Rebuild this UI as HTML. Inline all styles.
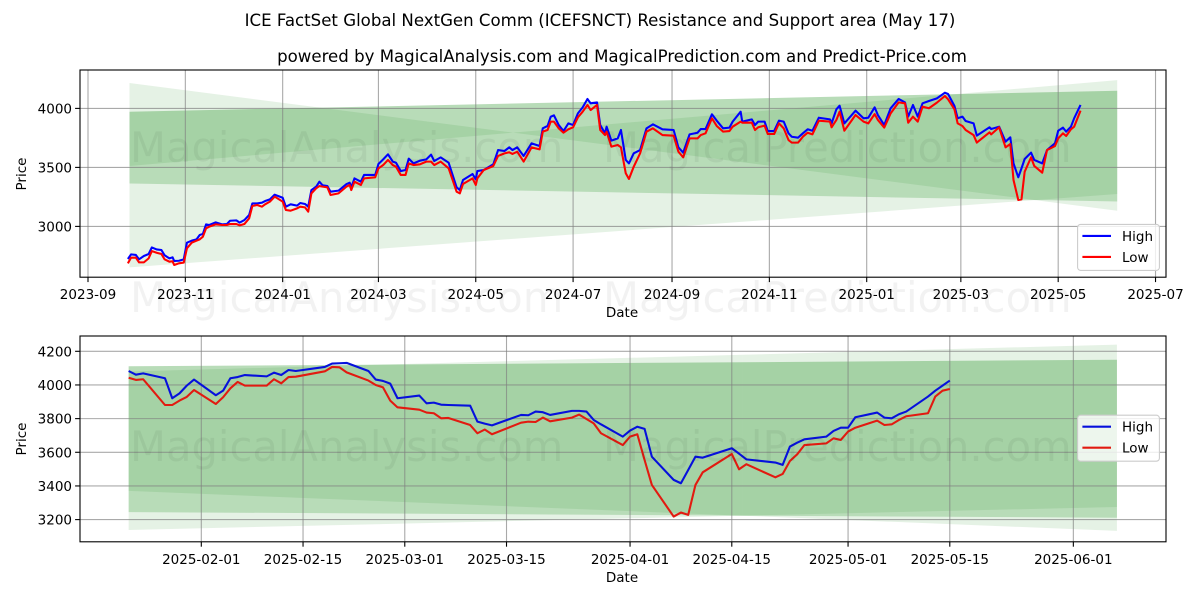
<!DOCTYPE html>
<html lang="en">
<head>
<meta charset="utf-8">
<title>ICE FactSet Global NextGen Comm Resistance and Support area</title>
<style>
html,body{margin:0;padding:0;background:#fff;width:1200px;height:600px;overflow:hidden}
svg{display:block}
text{font-family:"DejaVu Sans","Liberation Sans",sans-serif;fill:#000}
.title{font-size:16.6px;text-anchor:middle}
.tick{font-size:13.5px}
.axis-title{font-size:13.5px;text-anchor:middle}
.wm{font-size:41.67px;fill:#000;fill-opacity:.05}
</style>
</head>
<body>
<svg id="chart" xmlns="http://www.w3.org/2000/svg" width="1200" height="600" viewBox="0 0 1200 600">
  <rect x="0" y="0" width="1200" height="600" fill="#fff"/>
  <text class="title" x="600" y="26">ICE FactSet Global NextGen Comm (ICEFSNCT) Resistance and Support area (May 17)</text>
  <text class="title" x="622" y="62">powered by MagicalAnalysis.com and MagicalPrediction.com and Predict-Price.com</text>
  <g id="top-panel"></g>
  <g id="bottom-panel"></g>
  <text class="axis-title" x="622" y="317">Date</text>
  <text class="axis-title" x="622" y="582">Date</text>
  <text class="axis-title" transform="translate(26,174) rotate(-90)">Price</text>
  <text class="axis-title" transform="translate(26,439) rotate(-90)">Price</text>
  <g>
    <text class="wm" x="130" y="162">MagicalAnalysis.com</text>
    <text class="wm" x="603" y="162">MagicalPrediction.com</text>
    <text class="wm" x="130" y="312">MagicalAnalysis.com</text>
    <text class="wm" x="603" y="312">MagicalPrediction.com</text>
    <text class="wm" x="130" y="461">MagicalAnalysis.com</text>
    <text class="wm" x="603" y="461">MagicalPrediction.com</text>
  </g>
</svg>
<script>
// ---- Data: full-range panel (days since topOrigin) ----
const topOrigin = '2023-09-01';
const topDays = [
25,27,30,32,35,38,40,43,46,48,51,53,54,57,60,62,65,68,70,72,
74,76,80,84,87,89,93,95,98,101,103,106,109,111,114,117,122,124,127,131,
133,136,138,140,143,145,147,150,152,157,162,164,165,167,171,173,180,182,185,188,
191,193,196,199,201,204,208,212,215,217,221,226,
231,233,235,241,243,244,248,254,257,261,264,266,269,273,278,283,285,288,290,292,
295,298,301,304,307,310,313,315,319,321,324,325,328,332,334,337,339,342,346,350,
354,360,367,370,373,377,382,384,387,391,394,398,402,404,409,410,416,418,420,424,
426,430,433,436,439,
441,445,448,451,454,458,465,466,469,471,474,481,486,489,493,495,499,503,508,512,
514,517,520,523,527,532,537,539,543,545,548,550,555,557,565,566,571,575,578,580,
583,585,587,591,593,598,601,606,608,611,613,616,618,622];
const topHigh = [
2724,2763,2758,2721,2749,2766,2822,2805,2800,2755,2729,2738,2707,2709,2721,2862,2879,2890,2927,2936,
3017,3012,3034,3017,3020,3048,3051,3032,3054,3097,3195,3195,3201,3215,3229,3269,3243,3167,3187,3176,
3198,3190,3167,3308,3337,3379,3348,3342,3294,3303,3359,3370,3331,3407,3379,3436,3436,3529,3568,3611,
3549,3540,3469,3478,3574,3534,3557,3568,3608,3554,3585,3540,
3331,3308,3393,3444,3399,3469,3478,3526,3647,3639,3670,3647,3670,3597,3704,3681,3831,3851,3930,3941,
3859,3808,3873,3859,3958,4009,4080,4043,4051,3859,3789,3845,3727,3746,3817,3563,3534,3619,3647,3831,
3865,3823,3817,3670,3625,3780,3794,3825,3825,3950,3896,3831,3837,3888,3972,3888,3907,3859,3888,3888,
3808,3808,3896,3888,3789,
3760,3752,3789,3823,3811,3921,3907,3873,3992,4023,3873,3981,3916,3921,4009,3944,3859,4001,4080,4051,
3930,4029,3930,4043,4063,4085,4133,4122,4020,3916,3930,3893,3873,3769,3840,3825,3845,3718,3755,3534,
3416,3492,3571,3625,3563,3534,3647,3704,3811,3837,3803,3845,3916,4029];
const topLow = [
2687,2735,2735,2695,2695,2729,2791,2777,2766,2721,2701,2704,2673,2687,2693,2814,2862,2879,2890,2913,
2984,2998,3017,3012,3012,3020,3020,3009,3020,3068,3173,3181,3167,3187,3210,3252,3210,3139,3133,3153,
3167,3161,3125,3280,3323,3342,3337,3331,3266,3280,3337,3351,3308,3379,3351,3407,3416,3492,3520,3563,
3520,3506,3436,3436,3534,3520,3526,3549,3549,3520,3549,3492,
3294,3280,3359,3407,3351,3407,3478,3512,3597,3619,3628,3614,3633,3549,3670,3653,3803,3817,3888,3888,
3831,3794,3823,3840,3924,3972,4029,3986,4029,3817,3774,3803,3676,3690,3670,3450,3402,3506,3619,3803,
3831,3774,3769,3633,3585,3746,3746,3774,3789,3916,3851,3803,3808,3845,3888,3879,3879,3817,3840,3854,
3783,3783,3873,3831,3732,
3710,3710,3760,3794,3780,3896,3888,3840,3902,3972,3811,3944,3888,3873,3952,3902,3837,3958,4051,4043,
3879,3930,3888,4015,4001,4049,4105,4077,3992,3873,3851,3817,3774,3710,3797,3780,3840,3670,3698,3393,
3224,3229,3464,3585,3512,3455,3647,3681,3746,3789,3766,3823,3845,3981];

// ---- Data: recent-range panel (days since recentOrigin) ----
const recentOrigin = '2025-02-01';
const recentDays = [
-10,-9,-8,-5,-4,-3,-2,-1,2,3,4,5,6,9,10,11,12,13,17,18,19,20,23,24,25,26,27,
30,31,32,33,34,37,38,39,40,44,45,46,47,48,51,52,53,54,55,58,59,60,61,62,
65,66,67,68,69,73,74,75,79,80,81,82,83,86,87,88,89,90,93,94,95,96,97,100,101,102,103];
const recentHigh = [
4083,4061,4069,4040,3921,3950,3996,4032,3939,3966,4040,4047,4059,4051,4073,4059,4089,4083,4107,4127,4129,4131,4083,4032,4024,4008,3921,
3937,3891,3895,3883,3881,3877,3782,3770,3760,3822,3820,3842,3838,3822,3846,3846,3842,3792,3766,3693,3729,3752,3739,3574,
3436,3416,3495,3574,3568,3624,3592,3558,3539,3525,3634,3657,3677,3693,3727,3746,3746,3808,3836,3806,3802,3826,3842,3931,3966,3996,4026];
const recentLow = [
4043,4030,4034,3881,3881,3907,3929,3970,3887,3927,3980,4018,3996,3996,4034,4010,4047,4049,4081,4107,4105,4075,4026,4000,3986,3907,3867,
3853,3836,3832,3802,3804,3762,3713,3735,3707,3776,3782,3780,3806,3784,3806,3824,3798,3772,3713,3643,3693,3707,3554,3406,
3218,3242,3228,3406,3481,3590,3499,3529,3451,3471,3548,3588,3643,3653,3683,3673,3723,3746,3788,3762,3766,3792,3814,3832,3931,3966,3976];

// ---- Data: channel lines, value at bandStart and at bandEnd ----
const bandStart = '2023-09-27';
const bandEnd = '2025-06-07';
const recentStart = '2025-01-22';
const resistanceFlat = [3972, 4150];
const resistanceRising = [3512, 4240];
const resistanceFalling = [4215, 3133];
const supportFlat = [3364, 3211];
const supportRising = [2653, 3275];

// ---- Data: ticks ----
const topXTicks = ['2023-09','2023-11','2024-01','2024-03','2024-05','2024-07','2024-09','2024-11','2025-01','2025-03','2025-05','2025-07'];
const topYTicks = [3000,3500,4000];
const bottomXTicks = ['2025-02-01','2025-02-15','2025-03-01','2025-03-15','2025-04-01','2025-04-15','2025-05-01','2025-05-15','2025-06-01'];
const bottomYTicks = [3200,3400,3600,3800,4000,4200];
const legendLabels = ['High','Low'];

// ---- Scales ----
const NS = 'http://www.w3.org/2000/svg';
const dayMs = 86400000;
function dayNum(s){
  const p = s.split('-').map(Number);
  return Date.UTC(p[0], p[1]-1, p[2]||1) / dayMs;
}
const topZero = dayNum(topOrigin);
const recentZero = dayNum(recentOrigin);
const bandT0 = dayNum(bandStart);
const bandT1 = dayNum(bandEnd);
function xTop(t){ return 88 + 1.5957 * (t - topZero); }
function yTop(v){ return 108.4 + (4000 - v) * 0.118; }
function xBottom(t){ return 201.3 + 7.267 * (t - recentZero); }
function yBottom(v){ return 519.6 - (v - 3200) * 0.1683; }

function lineAt(edge, t){
  return edge[0] + (edge[1] - edge[0]) * (t - bandT0) / (bandT1 - bandT0);
}
function crossing(a, b){
  const d0 = a[0] - b[0];
  const d1 = a[1] - b[1];
  return bandT0 + (bandT1 - bandT0) * d0 / (d0 - d1);
}
function make(tag, parent, attrs, text){
  const el = document.createElementNS(NS, tag);
  for (const k in attrs) el.setAttribute(k, attrs[k]);
  if (text !== undefined) el.textContent = text;
  parent.appendChild(el);
  return el;
}

function drawPanel(cfg){
  const g = cfg.group;
  const X = cfg.x, Y = cfg.y;
  const box = cfg.box;
  const crossA = crossing(resistanceFalling, resistanceRising);
  const crossB = crossing(resistanceFalling, supportRising);
  const fills = [
    [resistanceFlat, supportFlat, bandT0, bandT1, 0.28, 'channel-band'],
    [resistanceFalling, resistanceRising, bandT0, crossA, 0.1, 'resistance-wedge-left'],
    [resistanceRising, resistanceFalling, crossA, crossB, 0.1, 'resistance-wedge-middle'],
    [resistanceRising, supportRising, crossB, bandT1, 0.1, 'resistance-wedge-right'],
    [supportFlat, supportRising, bandT0, crossB, 0.1, 'support-wedge-left'],
    [supportFlat, resistanceFalling, crossB, bandT1, 0.1, 'support-wedge-right']
  ];
  for (const f of fills){
    const a = Math.max(f[2], cfg.start);
    const b = Math.min(f[3], bandT1);
    if (b <= a) continue;
    const pts = [[a,f[0]],[b,f[0]],[b,f[1]],[a,f[1]]]
      .map(p => X(p[0]).toFixed(2) + ',' + Y(lineAt(p[1], p[0])).toFixed(2)).join(' ');
    const poly = make('polygon', g, {points: pts, fill: '#008000', 'fill-opacity': f[4]});
    
    
  }
  // grid and ticks
  cfg.xTicks.forEach(function(label){
    const px = X(dayNum(label));
    const grid = make('line', g, {x1:px, x2:px, y1:box.top, y2:box.bottom, stroke:'#808080', 'stroke-opacity':.68, 'stroke-width':1.1});
    
    
    const tick = make('line', g, {x1:px, x2:px, y1:box.bottom, y2:box.bottom+4.9, stroke:'#000', 'stroke-width':1.1});
    
    
    const t = make('text', g, {class:'tick', x:px, y:box.bottom+22, 'text-anchor':'middle'}, label);
    
    
  });
  cfg.yTicks.forEach(function(value){
    const py = Y(value);
    const grid = make('line', g, {x1:box.left, x2:box.right, y1:py, y2:py, stroke:'#808080', 'stroke-opacity':.68, 'stroke-width':1.1});
    
    
    const tick = make('line', g, {x1:box.left-4.9, x2:box.left, y1:py, y2:py, stroke:'#000', 'stroke-width':1.1});
    
    
    const t = make('text', g, {class:'tick', x:box.left-8, y:py+5, 'text-anchor':'end'}, String(value));
    
    
  });
  // series
  function pathOf(days, vals, zero){
    return days.map((d,i) => (i?'L':'M') + X(zero + d).toFixed(2) + ' ' + Y(vals[i]).toFixed(2)).join(' ');
  }
  const high = make('path', g, {d:pathOf(cfg.days, cfg.high, cfg.zero), fill:'none', stroke:cfg.highColor, 'stroke-width':2.08, 'stroke-linejoin':'round'});
  
  
  const low = make('path', g, {d:pathOf(cfg.days, cfg.low, cfg.zero), fill:'none', stroke:cfg.lowColor, 'stroke-width':2.08, 'stroke-linejoin':'round'});
  
  
  // frame
  const frame = make('rect', g, {x:box.left, y:box.top, width:box.right-box.left, height:box.bottom-box.top, fill:'none', stroke:'#000', 'stroke-width':1.1});
  
  
  // legend
  const leg = make('g', g, {});
  
  
  const legBox = make('rect', leg, {x:1077.6, y:cfg.legendTop, width:81.8, height:46, rx:3, ry:3, fill:'#fff', 'fill-opacity':.8, stroke:'#ccc', 'stroke-width':1.1});
  
  
  const colors = [cfg.highColor, cfg.lowColor];
  legendLabels.forEach(function(label, i){
    const ly = cfg.legendTop + 11.5 + i * 21;
    const h = make('line', leg, {x1:1082.4, x2:1111, y1:ly, y2:ly, stroke:colors[i], 'stroke-width':2.08});
    
    
    const t = make('text', leg, {class:'tick', x:1122, y:ly+5}, label);
    
    
  });
}

drawPanel({
  group: document.getElementById('top-panel'),
  x: xTop, y: yTop,
  box: {left:80, right:1166, top:70, bottom:277.2},
  start: bandT0,
  zero: topZero,
  days: topDays, high: topHigh, low: topLow,
  xTicks: topXTicks, yTicks: topYTicks,
  highColor: '#0000ff', lowColor: '#ff0000',
  legendTop: 224.4
});
drawPanel({
  group: document.getElementById('bottom-panel'),
  x: xBottom, y: yBottom,
  box: {left:80, right:1166, top:336, bottom:541.8},
  start: dayNum(recentStart),
  zero: recentZero,
  days: recentDays, high: recentHigh, low: recentLow,
  xTicks: bottomXTicks, yTicks: bottomYTicks,
  highColor: '#0610dc', lowColor: '#e21a10',
  legendTop: 415.2
});
</script>
</body>
</html>
